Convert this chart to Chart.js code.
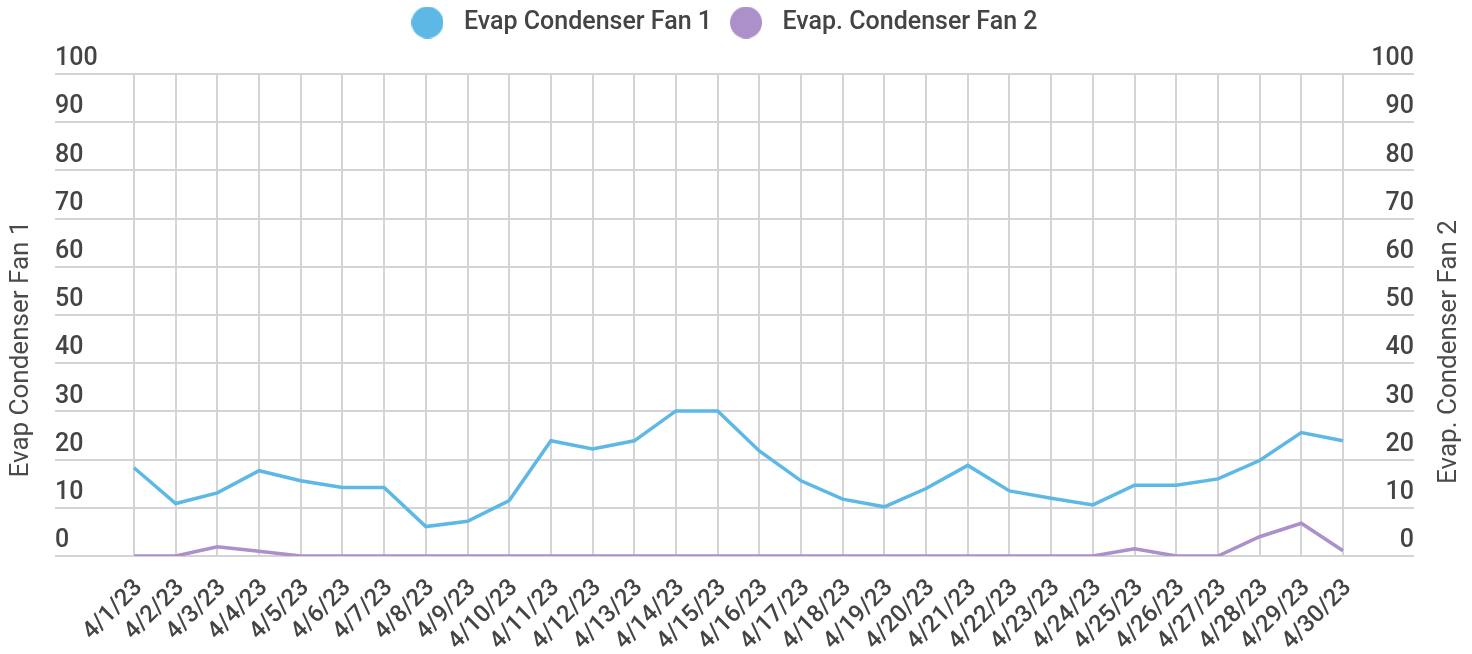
<!DOCTYPE html>
<html>
<head>
<meta charset="utf-8">
<script src="https://cdn.jsdelivr.net/npm/chart.js@4/dist/chart.umd.min.js"></script>
<style>
  html, body { margin: 0; padding: 0; background: #fff; }
  #wrap { width: 1472px; height: 654px; position: relative; }
</style>
</head>
<body>
<div id="wrap"><canvas id="fans"></canvas></div>
<script>
const days = ['4/1/23', '4/2/23', '4/3/23', '4/4/23', '4/5/23', '4/6/23', '4/7/23', '4/8/23', '4/9/23', '4/10/23',
    '4/11/23', '4/12/23', '4/13/23', '4/14/23', '4/15/23', '4/16/23', '4/17/23', '4/18/23', '4/19/23', '4/20/23',
    '4/21/23', '4/22/23', '4/23/23', '4/24/23', '4/25/23', '4/26/23', '4/27/23', '4/28/23', '4/29/23', '4/30/23']
const fan1 = [18.3, 10.9, 13.1, 17.7, 15.6, 14.2, 14.2, 6.1, 7.2, 11.5,
    23.9, 22.2, 23.9, 30.1, 30.1, 21.8, 15.6, 11.8, 10.2, 14.0,
    18.8, 13.5, 12.0, 10.6, 14.7, 14.7, 16.0, 19.8, 25.6, 23.9]
const fan2 = [0, 0, 1.9, 1.0, 0, 0, 0, 0, 0, 0,
    0, 0, 0, 0, 0, 0, 0, 0, 0, 0,
    0, 0, 0, 0, 1.5, 0, 0, 4.0, 6.8, 1.1]
const seriesNames = ['Evap Condenser Fan 1', 'Evap. Condenser Fan 2']

const blue = '#5db8e6'
const purple = '#ab90ca'
const textCol = '#444444'
const gridCol = '#d4d4d4'

// round legend markers, drawn once on small canvases
const dot = (col) => {
    const c = document.createElement('canvas')
    c.width = 32; c.height = 32
    const g = c.getContext('2d')
    g.fillStyle = col
    g.beginPath(); g.arc(16, 16, 16, 0, Math.PI * 2); g.fill()
    return c
}
const dots = [dot(blue), dot(purple)]

const legendTweak = {
    id: 'legendTweak',
    beforeInit(chart) {
        const fit = chart.legend.fit
        chart.legend.fit = function () {
            fit.bind(chart.legend)()
            this.height = 74
        }
    },
    afterLayout(chart) {
        chart.legend.left -= 14
        chart.legend.right -= 14
    }
}

const axisTitles = {
    id: 'axisTitles',
    afterDraw(chart) {
        const ctx = chart.ctx
        ctx.save()
        ctx.fillStyle = '#4a4a4a'
        ctx.font = '26px Roboto'
        ctx.textAlign = 'center'
        ctx.textBaseline = 'middle'
        ctx.translate(21, 349)
        ctx.rotate(-Math.PI / 2)
        ctx.fillText(seriesNames[0], 0, 0)
        ctx.restore()
        ctx.save()
        ctx.fillStyle = '#4a4a4a'
        ctx.font = '26px Roboto'
        ctx.textAlign = 'center'
        ctx.textBaseline = 'middle'
        ctx.translate(1449, 352)
        ctx.rotate(-Math.PI / 2)
        ctx.fillText(seriesNames[1], 0, 0)
        ctx.restore()
    }
}

var ctx = document.getElementById('fans').getContext('2d')
var fansChart = new Chart(ctx, {
    type: 'line',
    data: {
        labels: days,
        datasets: [{
            label: seriesNames[0],
            data: fan1,
            borderColor: blue,
            backgroundColor: blue,
            borderWidth: 3.5,
            pointRadius: 0,
            tension: 0,
            yAxisID: 'y'
        }, {
            label: seriesNames[1],
            data: fan2,
            borderColor: purple,
            backgroundColor: purple,
            borderWidth: 3.5,
            pointRadius: 0,
            tension: 0,
            yAxisID: 'y2'
        }]
    },
    options: {
        responsive: true,
        maintainAspectRatio: false,
        animation: false,
        layout: { padding: { left: 55, right: 58, top: 0, bottom: 0 } },
        plugins: {
            tooltip: { enabled: false },
            legend: {
                display: true,
                position: 'top',
                labels: {
                    usePointStyle: true,
                    pointStyleWidth: 48,
                    padding: 10,
                    color: textCol,
                    font: { family: 'Roboto', size: 25, weight: 500 },
                    generateLabels: (chart) => {
                        const items = Chart.defaults.plugins.legend.labels.generateLabels(chart)
                        items.forEach((it, i) => { it.pointStyle = dots[i] })
                        return items
                    }
                }
            }
        },
        scales: {
            x: {
                grid: { color: gridCol, lineWidth: 2, drawTicks: false },
                border: { display: false },
                ticks: {
                    autoSkip: false,
                    maxRotation: 45,
                    minRotation: 45,
                    padding: 18,
                    labelOffset: 5,
                    color: textCol,
                    font: { family: 'Roboto', size: 24, weight: 500 }
                },
                afterFit: (s) => { s.height = 98 }
            },
            y: {
                position: 'left',
                min: 0,
                max: 100,
                grid: { color: gridCol, lineWidth: 2, tickLength: 79 },
                border: { display: false },
                ticks: {
                    stepSize: 10,
                    crossAlign: 'far',
                    labelOffset: -15,
                    padding: 0,
                    color: textCol,
                    font: { family: 'Roboto', size: 25, weight: 500 }
                },
                afterFit: (s) => { s.width = 79 }
            },
            y2: {
                position: 'right',
                min: 0,
                max: 100,
                grid: { color: gridCol, lineWidth: 2, tickLength: 71, drawOnChartArea: false },
                border: { display: false },
                ticks: {
                    stepSize: 10,
                    crossAlign: 'far',
                    labelOffset: -15,
                    padding: 0,
                    color: textCol,
                    font: { family: 'Roboto', size: 25, weight: 500 }
                },
                afterFit: (s) => { s.width = 71 }
            }
        }
    },
    plugins: [legendTweak, axisTitles]
})
</script>
</body>
</html>
